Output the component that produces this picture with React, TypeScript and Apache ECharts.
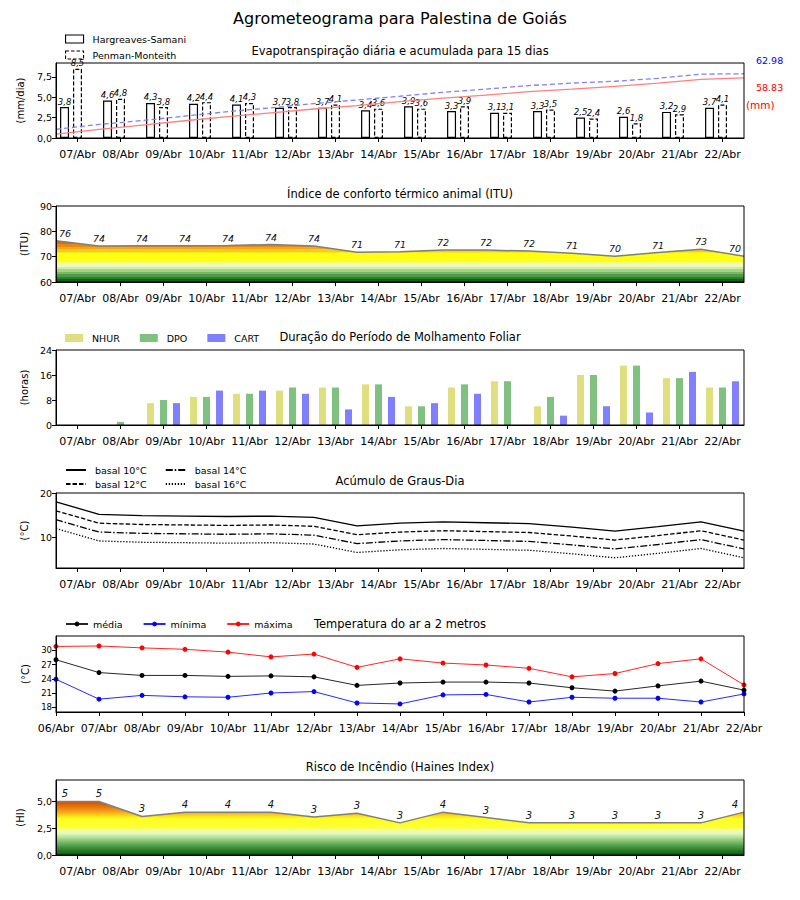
import React, { useEffect, useRef } from 'react';
import * as echarts from 'echarts';

const FONT = 'DejaVu Sans';

const days16 = ['07/Abr', '08/Abr', '09/Abr', '10/Abr', '11/Abr', '12/Abr', '13/Abr', '14/Abr', '15/Abr', '16/Abr', '17/Abr', '18/Abr', '19/Abr', '20/Abr', '21/Abr', '22/Abr'];
const days17 = ['06/Abr', '07/Abr', '08/Abr', '09/Abr', '10/Abr', '11/Abr', '12/Abr', '13/Abr', '14/Abr', '15/Abr', '16/Abr', '17/Abr', '18/Abr', '19/Abr', '20/Abr', '21/Abr', '22/Abr'];

// Evapotranspiração
const etHS = [3.8, 4.6, 4.3, 4.2, 4.1, 3.7, 3.7, 3.4, 3.9, 3.3, 3.1, 3.3, 2.5, 2.6, 3.2, 3.7];
const etPM = [8.5, 4.8, 3.8, 4.4, 4.3, 3.8, 4.1, 3.6, 3.6, 3.9, 3.1, 3.5, 2.4, 1.8, 2.9, 4.1];
const cumHS = [3.8, 8.4, 12.7, 16.9, 21.0, 24.7, 28.4, 31.8, 35.7, 39.0, 42.1, 45.4, 47.9, 50.5, 53.7, 57.4, 58.83];
const cumPM = [8.5, 13.3, 17.1, 21.5, 25.8, 29.6, 33.7, 37.3, 40.9, 44.8, 47.9, 51.4, 53.8, 55.6, 58.5, 62.6, 62.98];
const cumTotalPM = '62.98';
const cumTotalHS = '58.83';

// ITU
const itu = [76.3, 74.2, 74.3, 74.3, 74.4, 74.8, 74.2, 71.7, 71.9, 72.6, 72.6, 72.2, 71.3, 70.2, 71.6, 72.9, 70.2];
const ituLabels = ['76', '74', '74', '74', '74', '74', '74', '71', '71', '72', '72', '72', '71', '70', '71', '73', '70'];

// Molhamento foliar (horas)
const nhur = [0, 0, 7, 9, 10, 11, 12, 13, 6, 12, 14, 6, 16, 19, 15, 12];
const dpo = [0, 1, 8, 9, 10, 12, 12, 13, 6, 13, 14, 9, 16, 19, 15, 12];
const cart = [0, 0, 7, 11, 11, 10, 5, 9, 7, 10, 0, 3, 6, 4, 17, 14];

// Graus-dia
const gd10 = [18.0, 15.2, 14.9, 14.8, 14.7, 14.8, 14.5, 12.6, 13.2, 13.5, 13.3, 13.1, 12.3, 11.4, 12.4, 13.5, 11.4];
const gd12 = [16.0, 13.2, 12.9, 12.8, 12.7, 12.8, 12.5, 10.6, 11.2, 11.5, 11.3, 11.1, 10.3, 9.4, 10.4, 11.5, 9.4];
const gd14 = [14.0, 11.2, 10.9, 10.8, 10.7, 10.8, 10.5, 8.6, 9.2, 9.5, 9.3, 9.1, 8.3, 7.4, 8.4, 9.5, 7.4];
const gd16 = [12.0, 9.2, 8.9, 8.8, 8.7, 8.8, 8.5, 6.6, 7.2, 7.5, 7.3, 7.1, 6.3, 5.4, 6.4, 7.5, 5.4];

// Temperatura
const tMed = [28.0, 25.3, 24.7, 24.7, 24.5, 24.6, 24.4, 22.6, 23.1, 23.3, 23.3, 23.1, 22.1, 21.4, 22.5, 23.5, 21.6];
const tMin = [23.9, 19.7, 20.5, 20.2, 20.1, 21.0, 21.3, 18.9, 18.7, 20.6, 20.7, 19.1, 20.1, 19.9, 19.9, 19.1, 20.8];
const tMax = [30.8, 30.9, 30.5, 30.2, 29.6, 28.6, 29.2, 26.4, 28.2, 27.3, 26.9, 26.2, 24.4, 25.1, 27.2, 28.2, 22.7];

// Haines
const haines = [5.0, 5.0, 3.6, 4.0, 4.0, 4.0, 3.55, 3.9, 3.0, 4.0, 3.5, 3.0, 3.0, 3.0, 3.0, 3.0, 4.0];
const hainesLabels = ['5', '5', '3', '4', '4', '4', '3', '3', '3', '4', '3', '3', '3', '3', '3', '3', '4'];

// Tick values
const ticksET = [0, 2.5, 5, 7.5];
const ticksITU = [60, 70, 80, 90];
const ticksWet = [0, 8, 16, 24];
const ticksGD = [10, 20];
const ticksT = [18, 21, 24, 27, 30];
const ticksHI = [0, 2.5, 5];

const L = 56;
const W = 688;
const GRIDS = [
  { top: 63, height: 75 },
  { top: 206, height: 76 },
  { top: 350, height: 75 },
  { top: 493, height: 75 },
  { top: 636, height: 76 },
  { top: 780, height: 75 },
];

const comma = (v: number) => v.toFixed(1).replace('.', ',');

function bandStops(bands: [number, number, string][], min: number, max: number) {
  const stops: { offset: number; color: string }[] = [];
  bands.forEach(([lo, hi, c]) => {
    stops.push({ offset: Math.max(0, Math.min(1, (max - hi) / (max - min))), color: c });
    stops.push({ offset: Math.max(0, Math.min(1, (max - lo) / (max - min))), color: c });
  });
  return stops;
}

function smoothStops(pts: [number, string][], min: number, max: number) {
  return pts.map(([v, c]) => ({ offset: (max - v) / (max - min), color: c }));
}

const ituBands: [number, number, string][] = [
  [76, 90, '#d2580a'],
  [75, 76, '#de6a0c'],
  [74, 75, '#eb880e'],
  [73, 74, '#f4a816'],
  [72, 73, '#fbca1c'],
  [71.5, 72, '#ffec12'],
  [68, 71.5, '#ffff16'],
  [67, 68, '#f6ff7c'],
  [66, 67, '#ecfcb8'],
  [65, 66, '#cdeca6'],
  [64, 65, '#a4d48c'],
  [63, 64, '#78b866'],
  [62, 63, '#4e9c48'],
  [61, 62, '#2b7f2e'],
  [60, 61, '#0e6212'],
];

const hainesPts: [number, string][] = [
  [7, '#c44000'],
  [5.1, '#c84600'],
  [4.8, '#d85c06'],
  [4.4, '#ea7e10'],
  [4.0, '#f7a818'],
  [3.7, '#ffd21e'],
  [3.4, '#ffff1e'],
  [2.6, '#ffff34'],
  [2.3, '#f2ff9c'],
  [2.0, '#e2f8c4'],
  [1.6, '#aedc94'],
  [1.2, '#7aba66'],
  [0.8, '#4a9a44'],
  [0.4, '#257928'],
  [0, '#0a5c0c'],
];

export default function App() {
  const ref = useRef<HTMLDivElement>(null);

  useEffect(() => {
    if (!ref.current) return;
    const chart = echarts.init(ref.current, undefined, { renderer: 'svg' });

    const grid = GRIDS.map((g) => ({
      left: L,
      width: W,
      top: g.top,
      height: g.height,
      show: true,
      borderColor: '#000',
      borderWidth: 1,
      backgroundColor: 'transparent',
      z: 5,
    }));

    const catAxis = (gridIndex: number) => ({
      type: 'category',
      gridIndex,
      data: days16,
      boundaryGap: true,
      axisLine: { show: true, lineStyle: { color: '#000', width: 1 } },
      axisTick: { show: true, alignWithLabel: true, interval: 0, length: 4, lineStyle: { color: '#000' } },
      axisLabel: { interval: 0, fontSize: 11, color: '#000', fontFamily: FONT, margin: 11 },
      splitLine: { show: false },
      z: 5,
    });
    const hiddenAxis = (gridIndex: number) => ({
      type: 'category',
      gridIndex,
      data: days17,
      boundaryGap: false,
      show: false,
    });

    const valAxis = (
      gridIndex: number,
      min: number,
      max: number,
      ticks: number[],
      fmt: (v: number) => string,
      name: string,
      nameGap: number,
      fontSize = 9.5
    ) => ({
      type: 'value',
      gridIndex,
      min,
      max,
      axisLine: { show: true, lineStyle: { color: '#000' } },
      axisTick: { show: true, length: 4, customValues: ticks, lineStyle: { color: '#000' } },
      axisLabel: { customValues: ticks, formatter: fmt, fontSize, color: '#000', fontFamily: FONT, margin: 4 },
      splitLine: { show: false },
      name,
      nameLocation: 'middle',
      nameGap,
      nameTextStyle: { fontSize: 10, color: '#000', fontFamily: FONT },
      z: 5,
    });

    const intFmt = (v: number) => String(Math.round(v));

    const xAxis = [
      catAxis(0), // 0
      hiddenAxis(0), // 1
      catAxis(1), // 2
      hiddenAxis(1), // 3
      catAxis(2), // 4
      catAxis(3), // 5
      hiddenAxis(3), // 6
      {
        type: 'category',
        gridIndex: 4,
        data: days17,
        boundaryGap: false,
        axisLine: { show: true, lineStyle: { color: '#000', width: 1 } },
        axisTick: { show: true, interval: 0, length: 4, lineStyle: { color: '#000' } },
        axisLabel: { interval: 0, fontSize: 11, color: '#000', fontFamily: FONT, margin: 11 },
        splitLine: { show: false },
        z: 5,
      }, // 7
      catAxis(5), // 8
      hiddenAxis(5), // 9
    ];

    const yAxis = [
      valAxis(0, 0, 9.2, ticksET, comma, '(mm/dia)', 30),
      { type: 'value', gridIndex: 0, min: 0, max: 73.5, show: false, position: 'right' },
      valAxis(1, 60, 90, ticksITU, intFmt, '(ITU)', 24),
      valAxis(2, 0, 24, ticksWet, intFmt, '(horas)', 24),
      valAxis(3, 3.1, 20, ticksGD, intFmt, '(°C)', 24),
      valAxis(4, 17, 33, ticksT, intFmt, '(°C)', 24, 8.5),
      valAxis(5, 0, 7, ticksHI, comma, '(HI)', 30),
    ];

    const barLabel = {
      show: true,
      position: 'top',
      distance: 1,
      fontSize: 8.5,
      fontStyle: 'italic',
      color: '#000',
      fontFamily: FONT,
      formatter: (p: any) => comma(p.value),
    };

    const pointLabels = (vals: number[], labels: string[]) =>
      vals.map((v, i) => ({
        value: v,
        label: {
          offset: [i === 0 ? 9 : i === vals.length - 1 ? -9 : 0, 0],
          formatter: labels[i],
        },
      }));

    const lineLabel = (fontSize: number) => ({
      show: true,
      position: 'top',
      distance: 2,
      fontSize,
      fontStyle: 'italic',
      color: '#111',
      fontFamily: FONT,
    });

    const g1 = GRIDS[1];
    const g5 = GRIDS[5];
    const ituGrad = new echarts.graphic.LinearGradient(
      0, g1.top, 0, g1.top + g1.height, bandStops(ituBands, 60, 90), true
    );
    const hiGrad = new echarts.graphic.LinearGradient(
      0, g5.top, 0, g5.top + g5.height, smoothStops(hainesPts, 0, 7), true
    );

    const wetBar = (name: string, data: number[], color: string) => ({
      name,
      type: 'bar',
      xAxisIndex: 4,
      yAxisIndex: 3,
      data,
      barWidth: 7,
      barGap: '86%',
      itemStyle: { color },
    });

    const gdLine = (name: string, data: number[], type: any) => ({
      name,
      type: 'line',
      xAxisIndex: 6,
      yAxisIndex: 4,
      data,
      symbol: 'none',
      lineStyle: { color: '#000', width: 1.3, type },
      itemStyle: { color: '#000' },
    });

    const tLine = (name: string, data: number[], color: string) => ({
      name,
      type: 'line',
      xAxisIndex: 7,
      yAxisIndex: 5,
      data,
      symbol: 'circle',
      symbolSize: 5,
      lineStyle: { color, width: 1, opacity: 0.85 },
      itemStyle: { color },
    });

    const series: any[] = [
      {
        name: 'Hargreaves-Samani',
        type: 'bar',
        xAxisIndex: 0,
        yAxisIndex: 0,
        data: etHS,
        barWidth: 9,
        barGap: '44%',
        itemStyle: { color: '#fff', borderColor: '#000', borderWidth: 1.2 },
        label: barLabel,
      },
      {
        name: 'Penman-Monteith',
        type: 'bar',
        xAxisIndex: 0,
        yAxisIndex: 0,
        data: etPM,
        barWidth: 9,
        barGap: '44%',
        itemStyle: { color: '#fff', borderColor: '#000', borderWidth: 1.2, borderType: [4, 2] },
        label: barLabel,
      },
      {
        name: 'spacer',
        type: 'bar',
        xAxisIndex: 0,
        yAxisIndex: 0,
        data: [],
        barWidth: 9,
        barGap: '44%',
        silent: true,
      },
      {
        name: 'HS acumulada',
        type: 'line',
        xAxisIndex: 1,
        yAxisIndex: 1,
        data: cumHS,
        symbol: 'none',
        lineStyle: { color: '#ff8080', width: 1.3 },
        z: 4,
      },
      {
        name: 'PM acumulada',
        type: 'line',
        xAxisIndex: 1,
        yAxisIndex: 1,
        data: cumPM,
        symbol: 'none',
        lineStyle: { color: '#8080ff', width: 1.3, type: [5, 3] },
        z: 4,
      },
      {
        name: 'ITU',
        type: 'line',
        xAxisIndex: 3,
        yAxisIndex: 2,
        data: pointLabels(itu, ituLabels),
        symbol: 'circle',
        symbolSize: 1,
        itemStyle: { color: 'rgba(0,0,0,0)' },
        lineStyle: { color: '#7f7f7f', width: 1.5 },
        areaStyle: { color: ituGrad, origin: 'start', opacity: 1 },
        label: lineLabel(9.5),
      },
      wetBar('NHUR', nhur, '#dfdf80'),
      wetBar('DPO', dpo, '#80c080'),
      wetBar('CART', cart, '#8080ff'),
      gdLine('basal 10°C', gd10, 'solid'),
      gdLine('basal 12°C', gd12, [4.5, 2]),
      gdLine('basal 14°C', gd14, [7, 2, 1.5, 2]),
      gdLine('basal 16°C', gd16, [1.3, 1.7]),
      tLine('média', tMed, '#000000'),
      tLine('mínima', tMin, '#0000ff'),
      tLine('máxima', tMax, '#ff0000'),
      {
        name: 'Haines',
        type: 'line',
        xAxisIndex: 9,
        yAxisIndex: 6,
        data: pointLabels(haines, hainesLabels),
        symbol: 'circle',
        symbolSize: 1,
        itemStyle: { color: 'rgba(0,0,0,0)' },
        lineStyle: { color: '#7f7f7f', width: 1.5 },
        areaStyle: { color: hiGrad, origin: 'start', opacity: 1 },
        label: lineLabel(10),
      },
    ];

    const legendBase = {
      padding: 0,
      selectedMode: false,
      itemHeight: 8,
      textStyle: { fontSize: 9.5, color: '#000', fontFamily: FONT, padding: [0, 0, 0, 4] },
    };

    const legend = [
      {
        ...legendBase,
        data: [
          {
            name: 'Hargreaves-Samani',
            icon: 'rect',
            itemStyle: { color: '#fff', borderColor: '#000', borderWidth: 1.1 },
          },
          {
            name: 'Penman-Monteith',
            icon: 'rect',
            itemStyle: { color: '#fff', borderColor: '#000', borderWidth: 1.1, borderType: [3.5, 2] },
          },
        ],
        orient: 'vertical',
        left: 65,
        top: 34,
        itemWidth: 18,
        itemGap: 6,
      },
      {
        ...legendBase,
        data: [
          { name: 'NHUR', icon: 'rect' },
          { name: 'DPO', icon: 'rect' },
          { name: 'CART', icon: 'rect' },
        ],
        left: 65,
        top: 333,
        itemWidth: 18,
        itemGap: 20,
      },
      {
        ...legendBase,
        data: ['basal 10°C', 'basal 14°C'],
        left: 65,
        top: 465,
        itemWidth: 20,
        itemGap: 18,
        itemStyle: { opacity: 0 },
      },
      {
        ...legendBase,
        data: ['basal 12°C', 'basal 16°C'],
        left: 65,
        top: 479,
        itemWidth: 20,
        itemGap: 18,
        itemStyle: { opacity: 0 },
      },
      {
        ...legendBase,
        data: ['média', 'mínima', 'máxima'],
        left: 65,
        top: 619,
        itemWidth: 22,
        itemHeight: 6,
        itemGap: 20,
        textStyle: { fontSize: 9.5, color: '#000', fontFamily: FONT },
      },
    ];

    const txt = (text: string, x: number, y: number, fontSize: number, fill = '#000', align = 'center') => ({
      type: 'text',
      x,
      y,
      z: 10,
      style: {
        text,
        fill,
        fontSize,
        fontFamily: FONT,
        align,
        verticalAlign: 'middle',
        textAlign: align,
        textVerticalAlign: 'middle',
      },
    });

    const graphic = [
      txt('Agrometeograma para Palestina de Goiás', 400, 18, 16),
      txt('Evapotranspiração diária e acumulada para 15 dias', 400, 51, 11.5),
      txt('Índice de conforto térmico animal (ITU)', 400, 194, 11.5),
      txt('Duração do Período de Molhamento Foliar', 400, 337, 11.5),
      txt('Acúmulo de Graus-Dia', 400, 481, 11.5),
      txt('Temperatura do ar a 2 metros', 400, 624, 11.5),
      txt('Risco de Incêndio (Haines Index)', 400, 767, 11.5),
      txt(cumTotalPM, 756, 60, 9.5, '#0000ff', 'left'),
      txt(cumTotalHS, 756, 87, 9.5, '#ff0000', 'left'),
      txt('(mm)', 746, 105, 10.5, '#ff0000', 'left'),
    ];

    chart.setOption({
      animation: false,
      textStyle: { fontFamily: FONT, color: '#000' },
      grid,
      xAxis,
      yAxis,
      series,
      legend,
      graphic,
    });

    return () => chart.dispose();
  }, []);

  return (
    <div
      ref={ref}
      style={{ position: 'absolute', left: 0, top: 0, width: 800, height: 900, background: '#fff' }}
    />
  );
}
